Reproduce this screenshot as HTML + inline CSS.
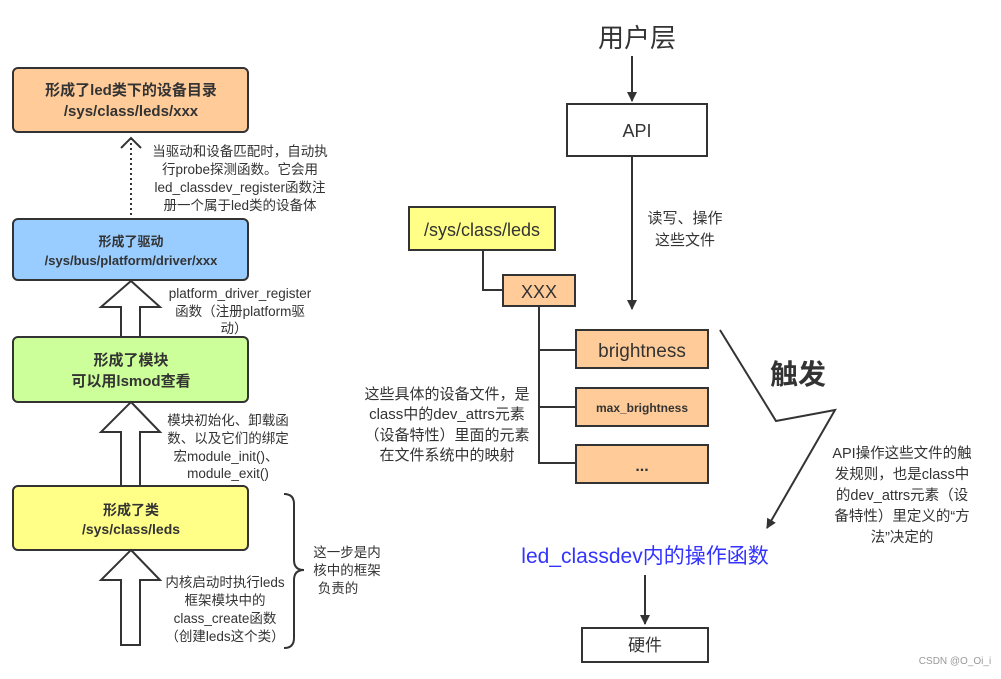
<!DOCTYPE html>
<html><head><meta charset="utf-8"><style>
body{margin:0;width:1001px;height:674px;background:#fff;overflow:hidden}
svg text{font-family:"Liberation Sans","Noto Sans CJK SC",sans-serif;fill:#333}
</style></head><body>
<svg width="1001" height="674" viewBox="0 0 1001 674" xmlns="http://www.w3.org/2000/svg">
<defs><marker id="ah" markerWidth="10" markerHeight="10" refX="9" refY="5" orient="auto" markerUnits="userSpaceOnUse"><path d="M0,0 L10,5 L0,10 Z" fill="#333"/></marker></defs>
<g stroke="#333" stroke-width="2">
<rect x="13" y="68" width="235" height="64" rx="5" fill="#ffcc99"/>
<rect x="13" y="219" width="235" height="61" rx="5" fill="#99ccff"/>
<rect x="13" y="337" width="235" height="65" rx="5" fill="#ccff99"/>
<rect x="13" y="486" width="235" height="64" rx="5" fill="#ffff88"/>
<line x1="131" y1="138" x2="131" y2="219" stroke-dasharray="2,3"/>
<polyline points="121,148 131,138 141,148" fill="none"/>
<path d="M131,281 L160,307 L140,307 L140,337 L121,337 L121,307 L101,307 Z" fill="#fff"/>
<path d="M131,402 L160,432 L140,432 L140,486 L121,486 L121,432 L101,432 Z" fill="#fff"/>
<path d="M131,550 L160,580 L140,580 L140,645 L121,645 L121,580 L101,580 Z" fill="#fff"/>
<path d="M284,494 Q294,494 294,504 L294,560 Q294,570 304,570 Q294,570 294,580 L294,638 Q294,648 284,648" fill="none"/>
</g>
<g font-weight="bold" text-anchor="middle" font-size="15">
<text x="131" y="95">形成了led类下的设备目录</text>
<text x="131" y="116">/sys/class/leds/xxx</text>
<text x="131" y="246" font-size="13">形成了驱动</text>
<text x="131" y="265" font-size="13">/sys/bus/platform/driver/xxx</text>
<text x="131" y="365">形成了模块</text>
<text x="131" y="386">可以用lsmod查看</text>
<text x="131" y="515" font-size="14">形成了类</text>
<text x="131" y="534" font-size="14">/sys/class/leds</text>
</g>
<g font-size="13.5" text-anchor="middle">
<text x="240" y="156">当驱动和设备匹配时，自动执</text>
<text x="240" y="174">行probe探测函数。它会用</text>
<text x="240" y="192">led_classdev_register函数注</text>
<text x="240" y="210">册一个属于led类的设备体</text>
<text x="240" y="298">platform_driver_register</text>
<text x="240" y="316">函数（注册platform驱</text>
<text x="234" y="333">动）</text>
<text x="228" y="425">模块初始化、卸载函</text>
<text x="228" y="443">数、以及它们的绑定</text>
<text x="226" y="461">宏module_init()、</text>
<text x="228" y="478">module_exit()</text>
<text x="225" y="587">内核启动时执行leds</text>
<text x="225" y="605">框架模块中的</text>
<text x="225" y="623">class_create函数</text>
<text x="225" y="641">（创建leds这个类）</text>
<text x="347" y="557">这一步是内</text>
<text x="347" y="575">核中的框架</text>
<text x="338" y="593">负责的</text>
</g>
<text x="637" y="47" font-size="26" text-anchor="middle">用户层</text>
<g stroke="#333" stroke-width="2">
<line x1="632" y1="56" x2="632" y2="101" marker-end="url(#ah)"/>
<rect x="567" y="104" width="140" height="52" fill="#fff"/>
<line x1="632" y1="156" x2="632" y2="309" marker-end="url(#ah)"/>
<rect x="409" y="207" width="146" height="43" fill="#ffff88"/>
<polyline points="483,250 483,290 503,290" fill="none"/>
<rect x="503" y="275" width="72" height="31" fill="#ffcc99"/>
<polyline points="539,306 539,463 576,463" fill="none"/>
<line x1="539" y1="350" x2="576" y2="350"/>
<line x1="539" y1="407" x2="576" y2="407"/>
<rect x="576" y="330" width="132" height="38" fill="#ffcc99"/>
<rect x="576" y="388" width="132" height="38" fill="#ffcc99"/>
<rect x="576" y="445" width="132" height="38" fill="#ffcc99"/>
<polyline points="720,330 776,421 835,410 767,528" fill="none" marker-end="url(#ah)"/>
<line x1="645" y1="575" x2="645" y2="624" marker-end="url(#ah)"/>
<rect x="582" y="628" width="126" height="34" fill="#fff"/>
</g>
<g text-anchor="middle">
<text x="637" y="137" font-size="18">API</text>
<text x="482" y="236" font-size="18">/sys/class/leds</text>
<text x="539" y="298" font-size="18">XXX</text>
<text x="642" y="357" font-size="19">brightness</text>
<text x="642" y="412" font-size="12" font-weight="bold">max_brightness</text>
<text x="642" y="471" font-size="16" font-weight="bold">...</text>
<text x="685" y="223" font-size="15">读写、操作</text>
<text x="685" y="245" font-size="15">这些文件</text>
<text x="798" y="384" font-size="28" font-weight="bold">触发</text>
<text x="447" y="399" font-size="15">这些具体的设备文件，是</text>
<text x="447" y="419" font-size="15">class中的dev_attrs元素</text>
<text x="447" y="440" font-size="15">（设备特性）里面的元素</text>
<text x="447" y="460" font-size="15">在文件系统中的映射</text>
<text x="902" y="458" font-size="14.5">API操作这些文件的触</text>
<text x="902" y="479" font-size="14.5">发规则，也是class中</text>
<text x="902" y="500" font-size="14.5">的dev_attrs元素（设</text>
<text x="902" y="521" font-size="14.5">备特性）里定义的“方</text>
<text x="902" y="542" font-size="14.5">法”决定的</text>
<text x="645" y="563" font-size="21" style="fill:#3333ff">led_classdev内的操作函数</text>
<text x="645" y="651" font-size="17">硬件</text>
<text x="955" y="664" font-size="10" style="fill:#999">CSDN @O_Oi_i</text>
</g>
</svg>
</body></html>
